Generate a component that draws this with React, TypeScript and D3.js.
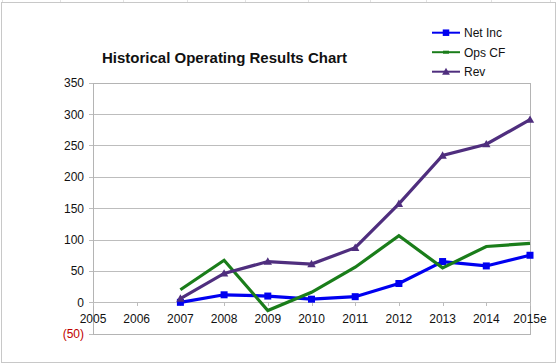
import React, { useEffect, useRef } from 'react';
import * as d3 from 'd3';

const years = ['2005', '2006', '2007', '2008', '2009', '2010', '2011', '2012', '2013', '2014', '2015e'];
const netIncYears = ['2007', '2008', '2009', '2010', '2011', '2012', '2013', '2014', '2015e'];
const netInc = [0, 12, 10, 5, 9, 30, 65, 58, 75];
const opsCf = [20, 67, -13, 16, 56, 106, 55, 89, 94];
const rev = [6, 46, 65, 61, 87, 157, 234, 252, 291];
const yTicks = [-50, 0, 50, 100, 150, 200, 250, 300, 350];
const seriesNames = ['Net Inc', 'Ops CF', 'Rev'];

const App = () => {
  const svgRef = useRef(null);

  useEffect(() => {
    const W = 558;
    const H = 364;
    const margin = { top: 82.7, right: 28, bottom: 30.3, left: 93 };

    const svg = d3.select(svgRef.current)
      .attr('width', W)
      .attr('height', H)
      .style('position', 'absolute')
      .style('left', 0)
      .style('top', 0)
      .style('font-family', '"Liberation Sans", Arial, sans-serif');
    svg.selectAll('*').remove();

    svg.append('rect')
      .attr('x', 0).attr('y', 0).attr('width', W).attr('height', H)
      .attr('fill', '#fff');

    // faint spreadsheet cell lines peeking at the top
    [2, 60, 123, 187, 245, 308, 370, 426, 491, 550].forEach(x => {
      svg.append('line')
        .attr('x1', x + 0.5).attr('x2', x + 0.5)
        .attr('y1', 0).attr('y2', 3)
        .attr('stroke', '#e2e2e2');
    });

    // chart frame
    svg.append('rect')
      .attr('x', 1.5).attr('y', 2.5)
      .attr('width', 554).attr('height', 360)
      .attr('fill', 'none')
      .attr('stroke', '#c8c8c8');

    const x = d3.scalePoint()
      .domain(years)
      .range([margin.left, W - margin.right]);

    const y = d3.scaleLinear()
      .domain([-50, 350])
      .range([H - margin.bottom, margin.top]);

    // grid lines
    svg.append('g')
      .selectAll('line')
      .data(yTicks)
      .enter().append('line')
      .attr('x1', margin.left - 4)
      .attr('x2', W - margin.right)
      .attr('y1', d => Math.round(y(d)) + 0.5)
      .attr('y2', d => Math.round(y(d)) + 0.5)
      .attr('stroke', '#bdbdbd');

    // plot border
    svg.append('rect')
      .attr('x', margin.left + 0.5)
      .attr('y', Math.round(y(350)) + 0.5)
      .attr('width', W - margin.right - margin.left)
      .attr('height', Math.round(y(-50)) - Math.round(y(350)))
      .attr('fill', 'none')
      .attr('stroke', '#b4b4b4');

    // x ticks on zero line
    svg.append('g')
      .selectAll('line')
      .data(years)
      .enter().append('line')
      .attr('x1', d => Math.round(x(d)) + 0.5)
      .attr('x2', d => Math.round(x(d)) + 0.5)
      .attr('y1', Math.round(y(0)))
      .attr('y2', Math.round(y(0)) + 4)
      .attr('stroke', '#bdbdbd');

    // y labels
    svg.append('g')
      .selectAll('text')
      .data(yTicks)
      .enter().append('text')
      .attr('x', margin.left - 9)
      .attr('y', d => y(d) + 4.5)
      .attr('text-anchor', 'end')
      .attr('font-size', 12)
      .attr('fill', d => (d < 0 ? '#c00000' : '#111'))
      .text(d => (d < 0 ? `(${Math.abs(d)})` : `${d}`));

    // x labels
    svg.append('g')
      .selectAll('text')
      .data(years)
      .enter().append('text')
      .attr('x', d => x(d))
      .attr('y', y(0) + 21)
      .attr('text-anchor', 'middle')
      .attr('font-size', 12)
      .attr('fill', '#111')
      .text(d => d);

    const line = d3.line()
      .x(d => x(d[0]))
      .y(d => y(d[1]));

    const series = [
      { name: seriesNames[0], values: netInc, color: '#0000f0', marker: 'square' },
      { name: seriesNames[1], values: opsCf, color: '#1a7d1a', marker: 'none' },
      { name: seriesNames[2], values: rev, color: '#4f2e7e', marker: 'triangle' },
    ];

    const drawMarker = (g, marker, cx, cy, color, size) => {
      if (marker === 'square') {
        g.append('rect')
          .attr('x', cx - size / 2).attr('y', cy - size / 2)
          .attr('width', size).attr('height', size)
          .attr('fill', color);
      } else if (marker === 'triangle') {
        const s = size;
        g.append('path')
          .attr('d', `M${cx},${cy - s * 0.6}L${cx + s * 0.6},${cy + s * 0.45}L${cx - s * 0.6},${cy + s * 0.45}Z`)
          .attr('fill', color);
      }
    };

    series.forEach(s => {
      const pts = netIncYears.map((yr, i) => [yr, s.values[i]]);
      svg.append('path')
        .datum(pts)
        .attr('d', line)
        .attr('fill', 'none')
        .attr('stroke', s.color)
        .attr('stroke-width', 3.2)
        .attr('stroke-linejoin', 'miter');
      const g = svg.append('g');
      pts.forEach(p => drawMarker(g, s.marker, x(p[0]), y(p[1]), s.color, 7));
    });

    // title
    svg.append('text')
      .attr('x', 102)
      .attr('y', 63)
      .attr('font-size', 15)
      .attr('font-weight', 'bold')
      .attr('fill', '#111')
      .text('Historical Operating Results Chart');

    // legend
    const legend = svg.append('g');
    series.forEach((s, i) => {
      const ly = 32.7 + i * 19.5;
      legend.append('line')
        .attr('x1', 432).attr('x2', 460)
        .attr('y1', ly).attr('y2', ly)
        .attr('stroke', s.color)
        .attr('stroke-width', 2);
      if (s.marker === 'none') {
        legend.append('rect')
          .attr('x', 443).attr('y', ly - 1.5)
          .attr('width', 6).attr('height', 3)
          .attr('fill', s.color);
      } else {
        drawMarker(legend, s.marker, 446, ly, s.color, 6.5);
      }
      legend.append('text')
        .attr('x', 464)
        .attr('y', ly + 4.5)
        .attr('font-size', 12)
        .attr('fill', '#111')
        .text(s.name);
    });
  }, []);

  return <svg ref={svgRef}></svg>;
};

export default App;
